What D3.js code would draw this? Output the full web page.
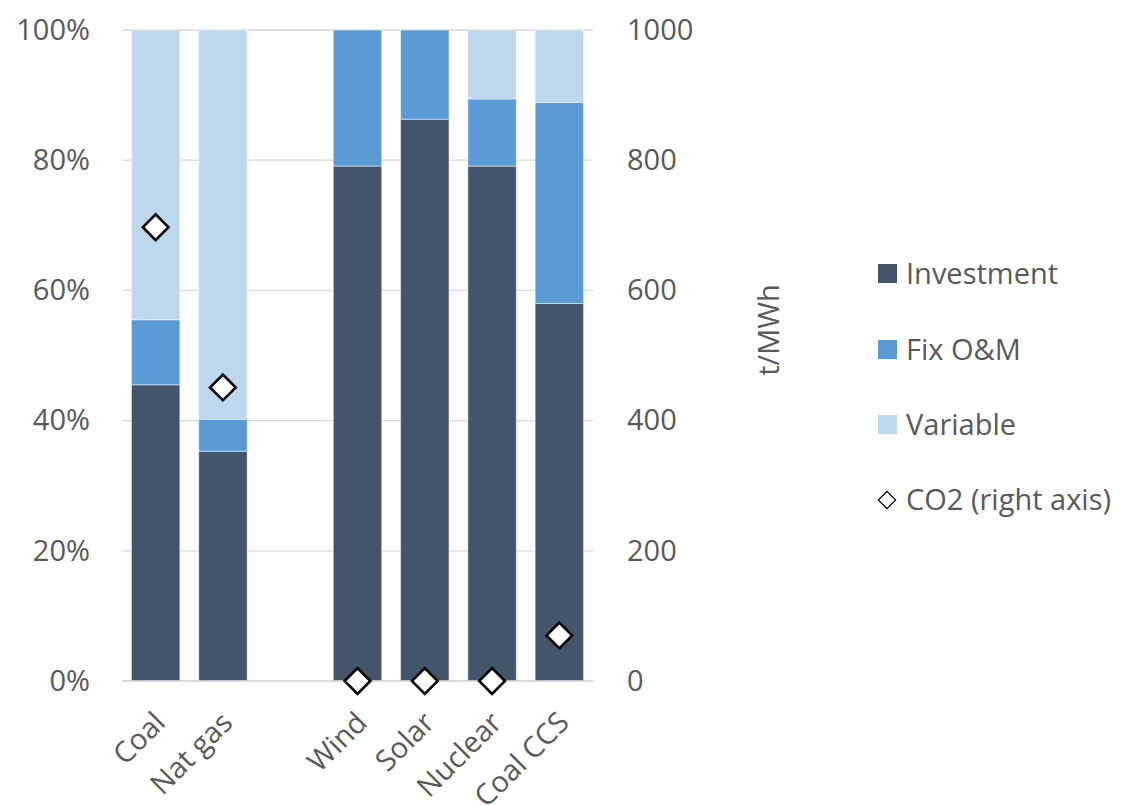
<!DOCTYPE html>
<html><head><meta charset="utf-8">
<script src="https://cdn.jsdelivr.net/npm/d3@7"></script>
<style>body{margin:0;background:#fff}svg{display:block}</style>
</head><body>
<svg id="c" width="1123" height="805"></svg>
<script>
const categories = ["Coal","Nat gas","","Wind","Solar","Nuclear","Coal CCS"];
const investment = [45.5, 35.3, null, 79.1, 86.3, 79.1, 58.0];
const fixOM      = [10.0, 4.9, null, 20.9, 13.7, 10.3, 30.9];
const variable   = [44.5, 59.8, null, 0, 0, 10.6, 11.1];
const co2        = [697, 451, null, 0, 0, 0, 70];
const leftTicks = [0,20,40,60,80,100];
const rightTicks = [0,200,400,600,800,1000];
const seriesNames = ["Investment","Fix O&M","Variable"];
const colors = ["#44546A","#5B9BD5","#BDD7EE"];

const svg = d3.select("#c");
const font = "'Open Sans', sans-serif";
const fs = 29;
const txt = "#595959";
const L = 122, R = 593, T = 30, B = 681;

const x = d3.scaleBand().domain(d3.range(categories.length)).range([L, R]).paddingInner(0.28).paddingOuter(0.14);
const y = d3.scaleLinear().domain([0,100]).range([B, T]);
const y2 = d3.scaleLinear().domain([0,1000]).range([B, T]);

// gridlines
svg.append("g").selectAll("line").data(leftTicks).join("line")
  .attr("x1", L).attr("x2", R).attr("y1", d=>y(d)).attr("y2", d=>y(d))
  .attr("stroke", "#D9D9D9").attr("stroke-width", 1.3);

// left axis
const la = svg.append("g").attr("transform", `translate(${L},0)`)
  .call(d3.axisLeft(y).tickValues(leftTicks).tickFormat(d=>d+"%").tickSize(0).tickPadding(32));
la.select(".domain").remove();
la.selectAll("text").attr("font-family", font).attr("font-size", fs).attr("fill", txt);

// right axis
const ra = svg.append("g").attr("transform", `translate(${R},0)`)
  .call(d3.axisRight(y2).tickValues(rightTicks).tickFormat(d3.format("d")).tickSize(0).tickPadding(34));
ra.select(".domain").remove();
ra.selectAll("text").attr("font-family", font).attr("font-size", fs).attr("fill", txt);

// stacked bars
const rows = categories.map((c,i)=>({i, v:[investment[i], fixOM[i], variable[i]]})).filter(r=>r.v[0]!==null);
rows.forEach(r=>{
  let acc = 0;
  r.v.forEach((v,k)=>{
    if (v>0) {
      svg.append("rect")
        .attr("x", x(r.i)).attr("width", x.bandwidth())
        .attr("y", y(acc+v)).attr("height", y(acc)-y(acc+v))
        .attr("fill", colors[k]).attr("stroke", "#fff").attr("stroke-opacity",0.5).attr("stroke-width", 1);
    }
    acc += v;
  });
});

// axis baseline
svg.append("line").attr("x1", L).attr("x2", R).attr("y1", B).attr("y2", B)
  .attr("stroke", "#D9D9D9").attr("stroke-width", 1.3);

// CO2 diamonds
svg.append("g").selectAll("path").data(co2.map((v,i)=>({v,i})).filter(d=>d.v!==null)).join("path")
  .attr("d", d3.symbol().type(d3.symbolSquare).size(330))
  .attr("transform", d=>`translate(${x(d.i)+x.bandwidth()/2},${y2(d.v)}) rotate(45)`)
  .attr("fill", "#fff").attr("stroke", "#000").attr("stroke-width", 2.6);

// category labels
svg.append("g").selectAll("text").data(categories.map((c,i)=>({c,i})).filter(d=>d.c)).join("text")
  .attr("transform", d=>`translate(${x(d.i)+x.bandwidth()/2-3},${B+29}) rotate(-45)`)
  .attr("text-anchor", "end").attr("dy", "0.7em")
  .attr("font-family", font).attr("font-size", fs).attr("fill", txt)
  .text(d=>d.c);

// right axis title
svg.append("text").attr("transform", `translate(779,330) rotate(-90)`)
  .attr("text-anchor","middle").attr("font-family", font).attr("font-size", fs).attr("fill", txt)
  .text("t/MWh");

// legend
const lg = svg.append("g");
const ly = [274, 350, 425];
seriesNames.forEach((n,k)=>{
  lg.append("rect").attr("x", 878).attr("y", ly[k]-10).attr("width", 19).attr("height", 19).attr("fill", colors[k]);
  lg.append("text").attr("x", 906).attr("y", ly[k]).attr("dy","0.35em")
    .attr("font-family", font).attr("font-size", fs).attr("fill", txt).text(n);
});
lg.append("path").attr("d", d3.symbol().type(d3.symbolSquare).size(150))
  .attr("transform", "translate(887,500) rotate(45)")
  .attr("fill", "#fff").attr("stroke", "#000").attr("stroke-width", 1.2);
lg.append("text").attr("x", 906).attr("y", 500).attr("dy","0.35em")
  .attr("font-family", font).attr("font-size", fs).attr("fill", txt).text("CO2 (right axis)");
</script>
</body></html>
